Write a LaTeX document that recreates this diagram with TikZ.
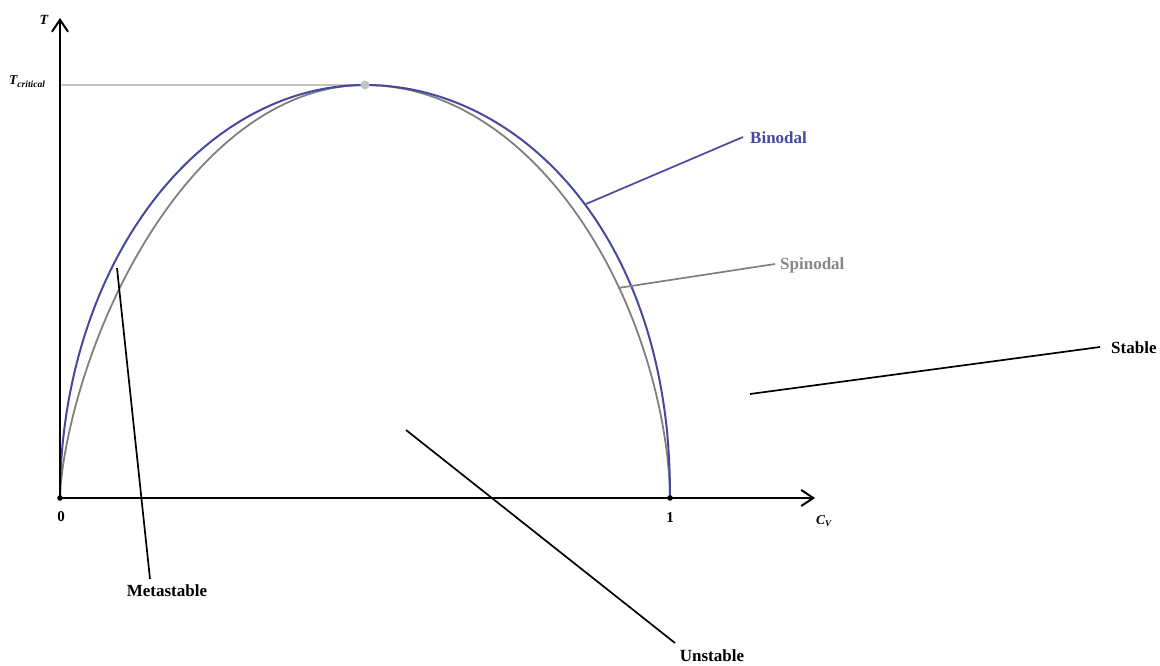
\documentclass[tikz,border=0pt]{standalone}
\usepackage{fontspec}
\setmainfont{Liberation Serif}
\usetikzlibrary{arrows.meta}
\definecolor{binblue}{RGB}{72,72,160}
\definecolor{spingray}{RGB}{128,128,128}
\definecolor{labgray}{RGB}{135,135,135}
\definecolor{tcgray}{RGB}{195,195,195}
\tikzset{
  axis/.style={line width=2pt, black, -{Straight Barb[length=12pt,width=16pt,line width=2pt]}},
  lab/.style={font=\bfseries\fontsize{17}{20}\selectfont, inner sep=0pt},
  leader/.style={line width=1.7pt},
  ticklab/.style={font=\bfseries\fontsize{15}{18}\selectfont, inner sep=0pt},
}
\begin{document}
\begin{tikzpicture}[x=1pt,y=-1pt]
\useasboundingbox[fill=white] (0,0) rectangle (1160,666);
% key points
\coordinate (O) at (60,498);
\coordinate (one) at (670,498);
\coordinate (peak) at (365,85);
\coordinate (ytip) at (60,18);
\coordinate (xtip) at (815,498);
\coordinate (tcaxis) at (60,85);
% T critical line
\draw[tcgray, line width=1.3pt] (tcaxis) -- (peak);
% curves
\draw[spingray, line width=1.8pt] (O)
  -- plot[domain=0.5:90, samples=150] ({365-305*cos(\x)}, {498-413*(sin(\x))^1.3})
  -- plot[domain=90:179.5, samples=150] ({365-305*cos(\x)}, {498-413*(sin(\x))^1.14})
  -- (one);
\draw[binblue, line width=2pt] (O)
  -- plot[domain=0.5:90, samples=150] ({365-305*cos(\x)}, {498-413*sin(\x)})
  -- plot[domain=90:179.5, samples=150] ({365-305*cos(\x)}, {498-413*(sin(\x))^0.93})
  -- (one);
% axes
\draw[axis] (O) -- (ytip);
\draw[axis] (O) -- (xtip);
% dots
\fill[black] (O) circle (2.8pt);
\fill[black] (one) circle (2.8pt);
\fill[tcgray] (peak) circle (4.5pt);
% axis labels
\node[font=\bfseries\itshape\fontsize{14}{16}\selectfont, inner sep=0pt] (Tlab) at (44,20) {T};
\node[inner sep=0pt, anchor=west] (Tc) at (9,82) {\bfseries\itshape\fontsize{13.5}{15}\selectfont T\raisebox{-0.45ex}{\fontsize{9.5}{11}\selectfont critical}};
\node[inner sep=0pt, anchor=west] (CV) at (816,521) {\bfseries\itshape\fontsize{13.5}{15}\selectfont C\raisebox{-0.45ex}{\fontsize{9}{10}\selectfont V}};
\node[ticklab] (zero) at (61,517) {0};
\node[ticklab] (onelab) at (670,518) {1};
% labels
\node[lab, binblue, anchor=west] (bin) at (750,138) {Binodal};
\node[lab, labgray, anchor=west] (spin) at (780,265) {Spinodal};
\node[lab, anchor=west] (stab) at (1111,348) {Stable};
\node[lab] (meta) at (167,591) {Metastable};
\node[lab] (unst) at (712,656) {Unstable};
% leader ends
\coordinate (binA) at (586,204);
\coordinate (binB) at (743,137);
\coordinate (spinA) at (618,288);
\coordinate (spinB) at (775,264);
\coordinate (stabA) at (750,394);
\coordinate (stabB) at (1100,347);
\coordinate (metaA) at (117,268);
\coordinate (metaB) at (150,579);
\coordinate (unstA) at (406,430);
\coordinate (unstB) at (675,643);
\draw[leader, binblue] (binA) -- (binB);
\draw[leader, spingray] (spinA) -- (spinB);
\draw[leader, black] (stabA) -- (stabB);
\draw[leader, black] (metaA) -- (metaB);
\draw[leader, black] (unstA) -- (unstB);
\end{tikzpicture}
\end{document}
